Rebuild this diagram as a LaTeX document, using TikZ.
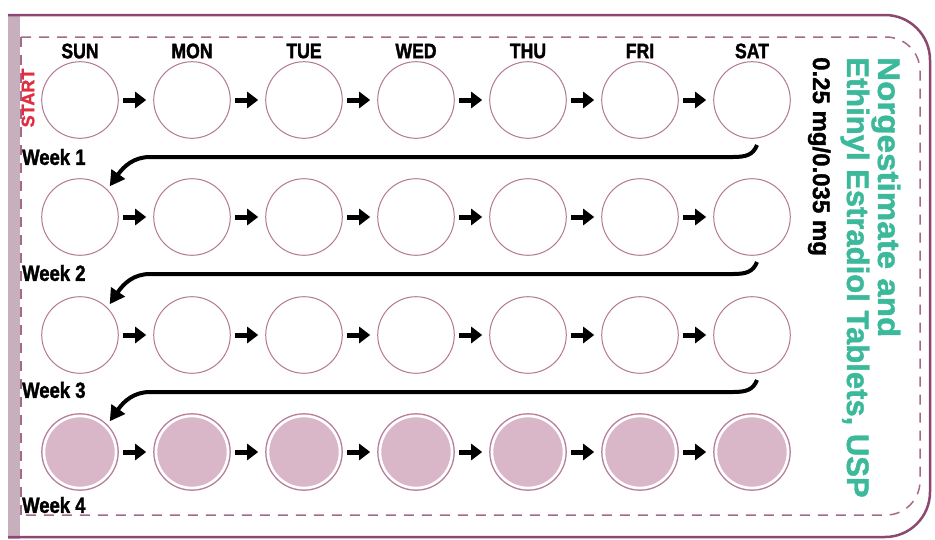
\documentclass[tikz,border=0pt]{standalone}
\usepackage{fontspec}
\setmainfont{Liberation Sans}
\newfontfamily\condfont[FakeStretch=0.84,FakeBold=1.6]{Liberation Sans}
\newfontfamily\heavyfont[FakeBold=1.4]{Liberation Sans}
\newfontfamily\wideheavyfont[FakeBold=1.4,FakeStretch=1.07]{Liberation Sans}
\usetikzlibrary{arrows.meta}
\definecolor{bordercol}{RGB}{140,72,112}
\definecolor{dashcol}{RGB}{165,105,140}
\definecolor{circcol}{RGB}{180,120,150}
\definecolor{pillfill}{RGB}{217,182,200}
\definecolor{barcol}{RGB}{200,175,190}
\definecolor{greencol}{RGB}{60,185,155}
\definecolor{startcol}{RGB}{225,45,65}
\tikzset{
  pillempty/.style={circle, minimum size=76.6pt, inner sep=0pt, draw=circcol, line width=1pt, fill=white},
  pillfull/.style={pillempty, fill=pillfill,
     path picture={\draw[white, line width=2.6pt] (path picture bounding box.center) circle (36pt);}},
  shortarr/.style={line width=5pt, -{Triangle[length=11pt,width=16pt]}, shorten <=4pt, shorten >=7pt},
  retarr/.style={line width=4pt, -{Triangle[length=15pt,width=16pt]}, shorten >=4pt},
  daylbl/.style={font=\condfont\bfseries\fontsize{21}{21}\selectfont, inner sep=0pt},
  weeklbl/.style={font=\condfont\bfseries\fontsize{22}{22}\selectfont, inner sep=0pt, anchor=west},
  startlbl/.style={font=\heavyfont\bfseries\fontsize{18}{18}\selectfont, text=startcol, inner sep=0pt, rotate=90},
  greenlbl/.style={font=\heavyfont\bfseries\fontsize{31}{31}\selectfont, text=greencol, inner sep=0pt, rotate=-90, anchor=base west},
  doselbl/.style={font=\heavyfont\bfseries\fontsize{24}{24}\selectfont, inner sep=0pt, rotate=-90, anchor=base west}
}
\begin{document}
\begin{tikzpicture}[x=1pt,y=-1pt]
\useasboundingbox (0,0) rectangle (935,539);
\fill[white] (0,0) rectangle (935,539);
% left bar
\fill[barcol] (8,15) rectangle (20,539);
% outer border
\draw[bordercol, line width=2.5pt, rounded corners=45pt] (8,15) -- (930,15) -- (930,537) -- (8,537);
% dashed inner border
\draw[dashcol, line width=1.5pt, dash pattern=on 10pt off 8pt] (21,37) -- (21,515);
\draw[dashcol, line width=1.5pt, dash pattern=on 10pt off 8pt, rounded corners=34pt] (21,37) -- (920,37) -- (920,515) -- (21,515);
% day labels
\foreach \d/\t in {1/SUN,2/MON,3/TUE,4/WED,5/THU,6/FRI,7/SAT}
  \node[daylbl] (d\d) at ({80+112*(\d-1)},51) {\t};
\node[startlbl] (start) at (28,98) {START};
% pills
\foreach \r/\y in {1/100,2/217,3/335}
  \foreach \d in {1,...,7}
    \node[pillempty] (c\r\d) at ({80+112*(\d-1)},\y) {};
\foreach \d in {1,...,7}
  \node[pillfull] (c4\d) at ({80+112*(\d-1)},452) {};
% short arrows
\foreach \r in {1,...,4}
  \foreach \d [count=\n from 2] in {1,...,6}
    \draw[shortarr] (c\r\d) -- (c\r\n);
% return arrows
\foreach \r/\y [count=\n from 2] in {1/100,2/217,3/335} {
  \coordinate (a\r) at (757,\y+45);
  \draw[retarr] (a\r) .. controls (753,\y+55) and (746,\y+57) .. (733,\y+57)
     -- (150,\y+57) .. controls (134,\y+57) and (124,\y+66) .. (c\n1.45);
}
% week labels
\node[weeklbl] (w1) at (22,157) {Week 1};
\node[weeklbl] (w2) at (22,273) {Week 2};
\node[weeklbl] (w3) at (22,390) {Week 3};
\node[weeklbl] (w4) at (22,505) {Week 4};
% product text
\node[greenlbl, font=\wideheavyfont\bfseries\fontsize{31}{31}\selectfont] (t1) at (878,57) {Norgestimate and};
\node[greenlbl] (t2) at (847,57) {Ethinyl Estradiol Tablets, USP};
\node[doselbl] (t3) at (813,57) {0.25 mg/0.035 mg};
\end{tikzpicture}
\end{document}
